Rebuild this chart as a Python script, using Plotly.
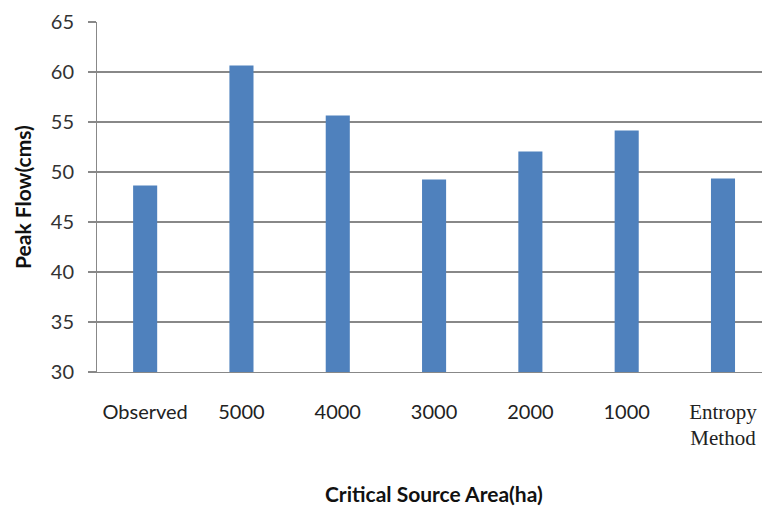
import plotly.graph_objects as go

# Peak flow for each critical source area threshold
categories = ["Observed", "5000", "4000", "3000", "2000", "1000", "Entropy Method"]
peak_flow = [48.65, 60.65, 55.65, 49.25, 52.05, 54.15, 49.35]
tick_labels = [
    "Observed", "5000", "4000", "3000", "2000", "1000",
    '<span style="font-family:\'Liberation Serif\';font-size:21px">Entropy<br>Method</span>',
]
y_ticks = [30, 35, 40, 45, 50, 55, 60, 65]

W, H = 762, 510
L, R, T, B = 97, 0, 22, 138

fig = go.Figure(
    go.Bar(
        x=categories,
        y=peak_flow,
        width=0.25,
        marker=dict(color="#4F81BD", line=dict(width=0)),
    )
)

fig.update_layout(
    width=W,
    height=H,
    margin=dict(l=L, r=R, t=T, b=B, pad=0),
    paper_bgcolor="white",
    plot_bgcolor="white",
    showlegend=False,
    font=dict(family="Lato", size=20, color="#222222"),
    xaxis=dict(
        type="category",
        range=[-0.5, 6.405],
        tickmode="array",
        tickvals=categories,
        ticktext=tick_labels,
        ticks="",
        showgrid=False,
        showline=True,
        linecolor="#888888",
        linewidth=1,
        ticklabelstandoff=22,
        tickfont=dict(family="Lato", size=20, color="#222222"),
    ),
    yaxis=dict(
        range=[30, 65],
        tickmode="array",
        tickvals=y_ticks,
        ticks="outside",
        ticklen=8,
        tickcolor="#888888",
        tickwidth=1.5,
        showgrid=True,
        gridcolor="#888888",
        gridwidth=1.5,
        showline=True,
        linecolor="#888888",
        linewidth=1,
        zeroline=False,
        ticklabelstandoff=10,
        tickfont=dict(family="Lato", size=20, color="#333333"),
    ),
    annotations=[
        dict(
            text="<b>Critical Source Area(ha)</b>",
            xref="paper", yref="paper",
            x=(434 - L) / (W - L - R), y=-(493 - (H - B)) / (H - T - B),
            xanchor="center", yanchor="middle",
            showarrow=False,
            font=dict(family="Lato", size=21, color="#111111"),
        ),
        dict(
            text="<b>Peak Flow(cms)</b>",
            xref="paper", yref="paper",
            x=-(L - 22) / (W - L - R), y=1 - (197 - T) / (H - T - B),
            xanchor="center", yanchor="middle",
            textangle=-90,
            showarrow=False,
            font=dict(family="Lato", size=21, color="#111111"),
        ),
    ],
)

fig.write_html("out.html")
